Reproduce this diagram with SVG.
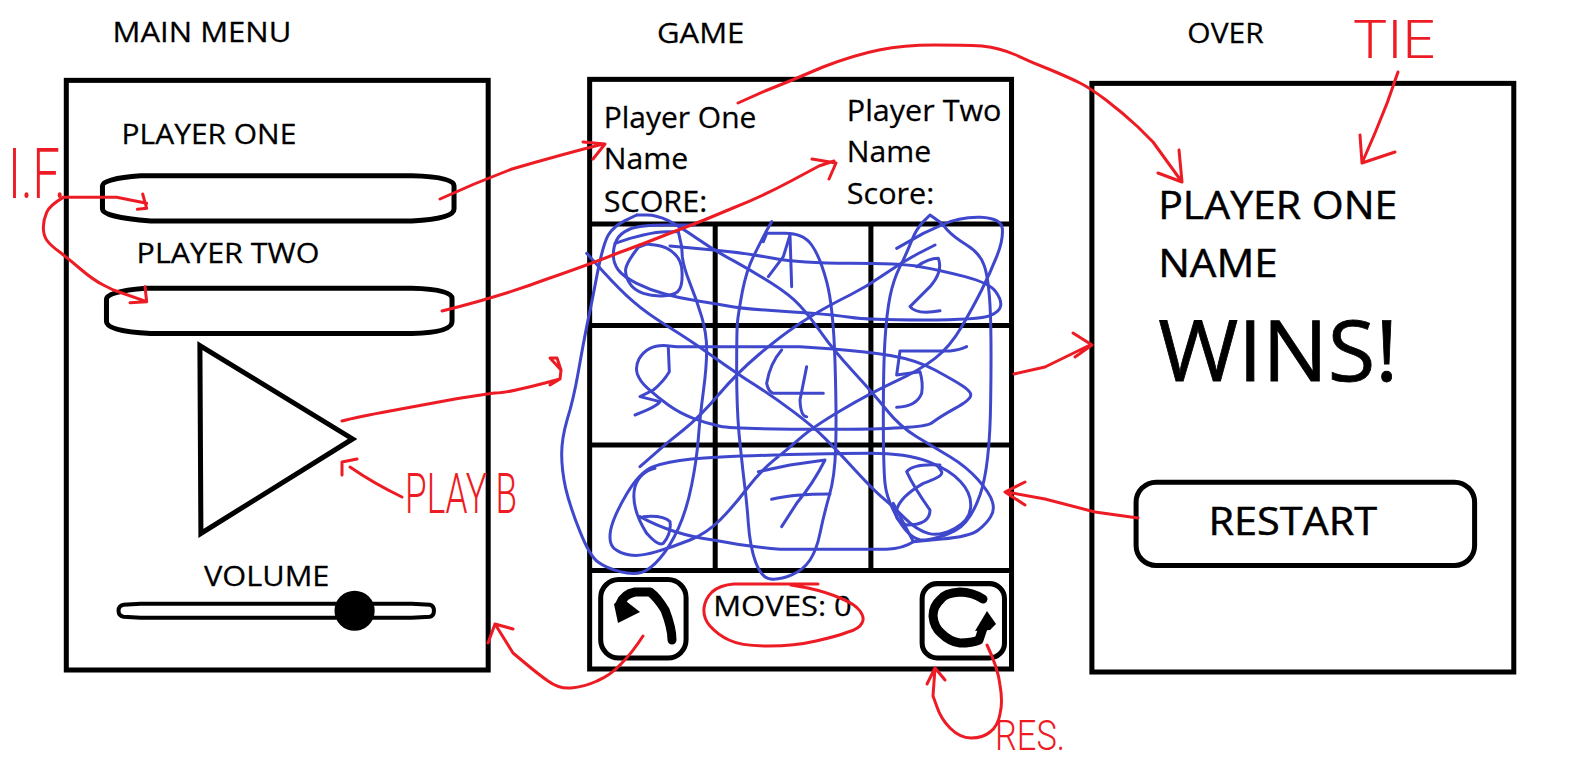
<svg xmlns="http://www.w3.org/2000/svg" width="1575" height="783" viewBox="0 0 1575 783">
<style>
text{font-family:"Open Sans","Noto Sans","Liberation Sans",sans-serif;fill:#000;stroke:#000;stroke-width:.25}
.b{fill:none;stroke:#000;stroke-width:5}
.g{fill:none;stroke:#000;stroke-width:5}
.i{fill:none;stroke:#000;stroke-width:9;stroke-linecap:round;stroke-linejoin:round}
.r{fill:none;stroke:#ed1c24;stroke-width:3;stroke-linecap:round;stroke-linejoin:round}
.rz{fill:none;stroke:#ed1c24;stroke-width:9;stroke-linecap:round;stroke-linejoin:round}
.u{fill:none;stroke:#3f48cc;stroke-width:9;stroke-linecap:round;stroke-linejoin:round}
.h{font-family:Roboto,"Liberation Sans",sans-serif;font-weight:300;fill:#ed1c24;stroke:none}
</style>
<rect width="1575" height="783" fill="#fff"/>
<g id="main-menu" transform="scale(1.0045)">
<text x="112" y="42" font-size="27" textLength="178" lengthAdjust="spacingAndGlyphs">MAIN MENU</text>
<rect class="b" x="66" y="80" width="420" height="587"/>
<text x="121" y="143" font-size="27" textLength="174" lengthAdjust="spacingAndGlyphs">PLAYER ONE</text>
<path class="b" d="M140 175H410Q452 176 452 185V208Q452 218 410 220H150Q102 216 102 208V185Q102 178 140 175Z"/>
<text x="136" y="262" font-size="27" textLength="182" lengthAdjust="spacingAndGlyphs">PLAYER TWO</text>
<path class="b" d="M145 287H410Q450 288 450 297V320Q450 331 410 332H150Q106 330 106 320V298Q106 290 145 287Z"/>
<path class="b" d="M199 344L351 437L200 531Z"/>
<text x="203" y="583" font-size="27" textLength="125" lengthAdjust="spacingAndGlyphs">VOLUME</text>
<path d="M140 601H410L428 602Q432 603 432 608Q432 613 428 614L410 615H140L123 614Q118 613 118 608Q118 603 123 602Z" fill="none" stroke="#000" stroke-width="4"/>
<circle cx="353" cy="608" r="20"/>
</g>
<g id="game">
<g transform="scale(1.0045)">
<text x="654" y="43" font-size="27" textLength="87" lengthAdjust="spacingAndGlyphs">GAME</text>
<rect class="b" x="587" y="79" width="420" height="587"/>
<text x="601" y="127" font-size="29" textLength="152" lengthAdjust="spacingAndGlyphs">Player One</text>
<text x="601" y="168" font-size="29" textLength="84" lengthAdjust="spacingAndGlyphs">Name</text>
<text x="601" y="211" font-size="29" textLength="103" lengthAdjust="spacingAndGlyphs">SCORE:</text>
<text x="843" y="120" font-size="29" textLength="154" lengthAdjust="spacingAndGlyphs">Player Two</text>
<text x="843" y="161" font-size="29" textLength="84" lengthAdjust="spacingAndGlyphs">Name</text>
<text x="843" y="203" font-size="29" textLength="87" lengthAdjust="spacingAndGlyphs">Score:</text>
<path class="g" d="M587 223H1007M587 324H1007M587 443H1007M587 568H1007M712 223V568M867 223V568"/>
<rect class="b" x="598" y="577" width="85" height="78" rx="18"/>
<rect class="b" x="918" y="581" width="82" height="74" rx="15"/>
<text x="710" y="613" font-size="28" textLength="138" lengthAdjust="spacingAndGlyphs">MOVES: 0</text>
</g>
<path class="i" d="M672 640Q672 628 665 610Q657 597 650 592H635Q624 594 620 604"/>
<path d="M614 604L618 623L640 612L622 598Z"/>
<path class="i" d="M983 599Q972 592 960 592Q945 593 941 599Q933 606 933 616Q934 627 941 633Q950 642 960 643Q972 643 979 640L983 628"/>
<path d="M975 631L987 611L996 624L990 630Z"/>
</g>
<g id="over" transform="scale(1.0045)">
<text x="1182" y="43" font-size="27" textLength="76" lengthAdjust="spacingAndGlyphs">OVER</text>
<rect class="b" x="1087" y="83" width="420" height="586"/>
<text x="1153" y="218" font-size="39" textLength="238" lengthAdjust="spacingAndGlyphs" style="stroke-width:.5">PLAYER ONE</text>
<text x="1153" y="276" font-size="39" textLength="119" lengthAdjust="spacingAndGlyphs" style="stroke-width:.5">NAME</text>
<text x="1153" y="379" font-size="83" textLength="239" lengthAdjust="spacingAndGlyphs" style="stroke-width:.8">WINS!</text>
<rect class="b" x="1131" y="480" width="337" height="83" rx="20"/>
<text x="1203" y="533" font-size="39" textLength="168" lengthAdjust="spacingAndGlyphs" style="stroke-width:.5">RESTART</text>
</g>
<g id="scribble" transform="translate(540 200) scale(.33333)">
<path class="u" d="M463 75L381 75Q300 75 270 87 240 100 230 120 220 140 220 165 220 190 235 210 250 230 290 250 330 270 375 282 420 295 470 302 520 310 560 317 600 325 675 330 750 335 815 340 880 345 930 352 980 360 1150 360 1320 360 1350 347 1380 335 1382 317 1385 300 1367 275 1350 250 1275 230 1200 210 1140 200 1080 190 930 190 780 190 700 175 620 160 570 155L520 150 390 138"/>
<path class="u" d="M300 135L280 162Q260 190 257 207 255 225 267 247 280 270 310 280 340 290 375 287 410 285 419 267 428 250 426 215 425 180 402 160 380 140 350 136L320 132 300 140"/>
<path class="u" d="M695 65L677 97Q660 130 640 170 620 210 607 275 595 340 592 370 590 400 590 510 590 620 597 700 605 780 612 840 620 900 625 970 630 1040 647 1087 665 1135 692 1137 720 1140 755 1125 790 1110 810 1080 830 1050 840 1000 850 950 867 890 885 830 887 740 890 650 885 485 880 320 860 245 840 170 815 135 790 100 735 100L680 100 670 125"/>
<path class="u" d="M685 230L730 170 750 105 755 260"/>
<path class="u" d="M415 95L382 95Q350 95 310 105L270 115 225 130"/>
<path class="u" d="M290 45L320 45Q350 45 385 62 420 80 470 115 520 150 580 182 640 215 695 250 750 285 780 317 810 350 845 400 880 450 940 515 1000 580 1040 630 1080 680 1130 710 1180 740 1230 770 1280 800 1315 840 1350 880 1357 905 1365 930 1352 950 1340 970 1315 990 1290 1010 1205 1017L1120 1025 1060 910"/>
<path class="u" d="M140 160L190 215Q240 270 280 305 320 340 385 380 450 420 520 470 590 520 645 555 700 590 760 635 820 680 855 715 890 750 945 810 1000 870 1030 895 1060 920 1095 955 1130 990 1165 1000 1200 1010 1245 985 1290 960 1292 920 1295 880 1262 845 1230 810 1165 785 1100 760 990 760 880 760 705 765 530 770 455 777 380 785 340 800 300 815 260 882 220 950 212 990 205 1030 222 1045 240 1060 270 1065 300 1070 350 1055 400 1040 450 1020 500 1000 540 960 580 920 620 867 660 815 700 782 740 750 780 715 820 680 905 630 990 580 1065 545 1140 510 1185 475 1230 440 1265 380 1300 320 1325 270 1350 220 1370 170 1390 120 1387 87 1385 55 1322 52 1260 50 1205 75L1150 100 1070 145"/>
<path class="u" d="M290 45L255 62Q220 80 205 105 190 130 172 220 155 310 142 370 130 430 115 515 100 600 82 657 65 715 65 762 65 810 77 865 90 920 120 995 150 1070 175 1087 200 1105 240 1115 280 1125 305 1117 330 1110 360 1075 390 1040 415 985 440 930 455 855 470 780 475 715 480 650 490 575 500 500 500 450 500 400 485 350 470 300 450 250 430 200 427 170L425 140 415 95"/>
<path class="u" d="M1170 45L1150 65Q1130 85 1115 122 1100 160 1080 200 1060 240 1050 290 1040 340 1035 420 1030 500 1030 650 1030 800 1035 850 1040 900 1077 962 1115 1025 1157 1020 1200 1015 1245 992 1290 970 1320 885 1350 800 1352 600 1355 400 1350 315 1345 230 1332 195 1320 160 1280 135 1240 110 1222 90L1205 70 1170 45"/>
<path class="u" d="M410 440L380 437Q350 435 330 445 310 455 297 477 285 500 292 522 300 545 325 567 350 590 385 615 420 640 460 655 500 670 540 679 580 688 865 688 1150 688 1175 669 1200 650 1245 625 1290 600 1292 587 1295 575 1267 557 1240 540 1185 510 1130 480 1055 467 980 455 880 447L780 440 410 440"/>
<path class="u" d="M385 445L388 515Q370 545 340 570L300 590 360 605Q350 620 285 645"/>
<path class="u" d="M725 450Q690 490 680 550Q685 575 700 580H850M800 500L780 600Q782 650 800 650"/>
<path class="u" d="M1280 440Q1260 450 1230 453H1080L1070 525 1140 515Q1150 550 1145 580Q1130 620 1070 622"/>
<path class="u" d="M1130 200Q1165 175 1195 175Q1210 215 1170 260L1110 320Q1130 345 1200 332"/>
<path class="u" d="M345 805Q300 815 285 860Q270 920 320 1000Q355 1040 370 1030Q395 1000 390 965Q370 945 310 950M300 950Q400 1005 520 1020Q620 1040 720 1048H1040Q1090 1045 1120 1025"/>
<path class="u" d="M655 815L750 795 855 780Q820 850 770 910L725 980M695 898Q760 882 870 882"/>
<path class="u" d="M1200 795Q1120 790 1100 815Q1120 860 1170 930Q1170 975 1100 975Q1060 960 1070 930Q1080 890 1150 850Q1210 830 1205 815Q1190 790 1180 795"/>
<path class="u" d="M1185 135L1132 162Q1080 190 1030 225 980 260 930 285 880 310 845 330 810 350 765 380 720 410 655 465 590 520 535 585 480 650 430 690L380 730 300 800"/>
</g>
<g id="connectors">
<path class="r" d="M440 199Q475 183 512 169Q560 155 603 144M583 142L605 144 593 159"/>
<path class="r" d="M442 311Q502 296 547 279 593 263 618 253 643 244 673 232 703 221 733 208 763 196 791 181L819 166 834 161M812 159L836 163 829 179"/>
<path class="r" d="M738 103L765 91Q793 80 823 67 854 55 879 50 904 45 934 45 964 45 982 46 1000 48 1016 55 1033 63 1051 70 1070 78 1080 83 1090 88 1106 100 1123 113 1138 127L1153 142 1182 182M1179 150L1182 182 1158 173"/>
<path class="r" d="M1398 72Q1388 103 1375 133L1362 163M1360 135L1362 163 1395 152"/>
<path class="r" d="M342 421Q357 417 390 411 423 405 455 399 487 394 495 393 503 393 516 390 530 387 545 383L560 379M550 385L560 379 561 370 557 358 550 358 561 370"/>
<path class="r" d="M402 497Q373 483 350 467M342 475L342 462 357 459"/>
<path class="r" d="M1014 374L1045 367 1090 345M1073 333L1092 345 1075 357"/>
<path class="r" d="M1138 518L1095 512 1045 499 1007 492M1025 482L1005 492 1025 505"/>
<path class="r" d="M818 584L783 584Q749 584 734 584 720 585 712 592 705 599 704 608 703 618 710 626 718 635 729 640 741 646 768 646 795 646 816 641 838 636 848 632 859 629 862 623 865 618 860 611 855 604 840 598 826 592 808 588L791 585"/>
<path class="r" d="M643 636Q632 653 621 664 611 675 597 681 584 687 571 688 559 689 548 681 538 674 525 663L513 653 495 624M488 643L495 624 513 629"/>
<path class="r" d="M987 645Q998 668 1000 685 1003 702 1000 714 998 726 990 732 983 738 971 738 960 738 950 728 941 719 937 707L933 696 935 668M927 684L935 668 945 680"/>
<g transform="translate(0 120) scale(.33333)">
<path class="rz" d="M190 232L350 232 440 250M428 222L440 265 412 268"/>
<path class="rz" d="M190 232Q150 255 140 277 130 300 130 322 130 345 140 360 150 375 180 397 210 420 245 450 280 480 310 495L340 510 440 545M435 500L440 545 390 548"/>
</g>
</g>
<g id="notes">
<text class="h" x="8" y="198" font-size="70" textLength="58" lengthAdjust="spacingAndGlyphs">I.F.</text>
<text class="h" x="405" y="513" font-size="56" textLength="112" lengthAdjust="spacingAndGlyphs">PLAY B</text>
<text class="h" x="1353" y="58" font-size="54" textLength="82" lengthAdjust="spacingAndGlyphs">TIE</text>
<text class="h" x="995" y="750" font-size="42" textLength="70" lengthAdjust="spacingAndGlyphs">RES.</text>
</g>
</svg>
